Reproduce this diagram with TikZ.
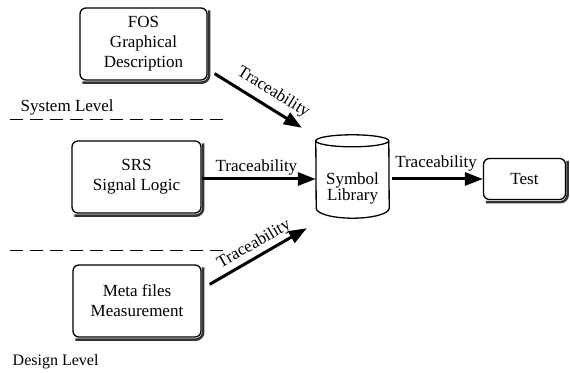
\documentclass[tikz,border=0pt]{standalone}
\usepackage{fontspec}
\setmainfont{Liberation Serif}
\usetikzlibrary{arrows.meta,calc}
\begin{document}
\begin{tikzpicture}[x=1pt,y=1pt,
  box/.style={draw, line width=1.3pt, rounded corners=6pt, align=center,
    font=\fontsize{17}{20}\selectfont, fill=white, inner sep=0pt},
  boxshadow/.style={draw=black!80, line width=2.6pt},
  cyl/.style={draw=none, minimum width=73pt, minimum height=83pt, inner sep=0pt,
    font=\fontsize{17}{20}\selectfont},
  trace/.style={line width=3pt, -{Triangle[length=18pt,width=13pt]}},
  lbl/.style={font=\fontsize{17}{20}\selectfont, inner sep=1pt},
  level/.style={anchor=west, inner sep=0pt},
  divider/.style={dash pattern=on 13pt off 7pt, line width=0.8pt}]
\useasboundingbox (0,0) rectangle (570,372);

% boxes
\node[box, minimum width=127pt, minimum height=72pt] (fos) at (143.5,328) {FOS\\Graphical\\Description};
\node[box, minimum width=129pt, minimum height=72pt] (srs) at (136.5,195) {SRS\\Signal Logic};
\node[box, minimum width=128pt, minimum height=72pt] (meta) at (137,71) {Meta files\\Measurement};
\node[box, minimum width=82pt, minimum height=41pt] (test) at (524.5,193) {Test};

% shadows: a dark band along the bottom and right edge of each box
\foreach \nm in {fos,srs,meta,test}{
  \draw[boxshadow] ([shift={(3,-2)}]\nm.south west) -- ([shift={(-6,-2)}]\nm.south east)
    arc[start angle=-90, end angle=0, radius=7.5pt] -- ([shift={(1.5,-3)}]\nm.north east);
}

% symbol library cylinder
\node[cyl] (sym) at (352.5,195.5) {\raisebox{-16pt}[0pt][0pt]{\begin{tabular}{@{}c@{}}Symbol\\[-4pt]Library\end{tabular}}};
\draw[line width=1.3pt, line join=round]
  ([yshift=-6pt]sym.north west) arc[start angle=180, end angle=0, x radius=36.5pt, y radius=6pt]
  -- ([yshift=10pt]sym.south east) arc[start angle=0, end angle=-180, x radius=36.5pt, y radius=10pt]
  -- cycle;
\draw[line width=1.3pt]
  ([yshift=-6pt]sym.north west) arc[start angle=180, end angle=360, x radius=36.5pt, y radius=6pt];

% level dividers and labels
\draw[divider] (10,252.7) -- (228,252.7);
\draw[divider] (10,122) -- (228,122);
\node[level, font=\fontsize{17}{20}\selectfont] (sys) at (20.5,264.3) {System Level};
\node[level, font=\fontsize{16}{19}\selectfont] (des) at (12.5,10) {Design Level};

% connectors
\draw[trace] ($(fos.south east)+(7,7)$) -- ($(sym.north west)+(-14,7)$)
  node[lbl, pos=0.58, sloped, above=5pt] {Traceability};
\draw[trace] ([yshift=-2pt]srs.east) -- ([yshift=-2pt]srs.east -| sym.west)
  node[lbl, pos=0.48, above=1pt] {Traceability};
\draw[trace] ($(meta.north east)+(8,-20)$) -- ($(sym.south west)+(-9,-10)$)
  node[lbl, pos=0.52, sloped, above=2pt] {Traceability};
\draw[trace, shorten <=3pt] (sym.east |- test.west) -- (test.west)
  node[lbl, midway, above=5pt] {Traceability};
\end{tikzpicture}
\end{document}
